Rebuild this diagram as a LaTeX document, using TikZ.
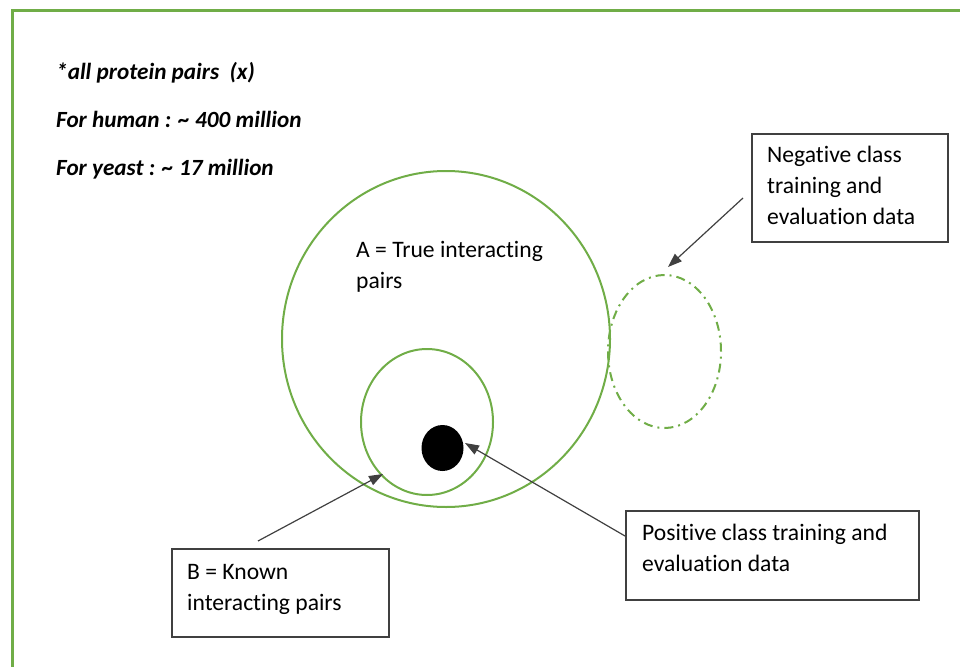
\documentclass[tikz,border=0pt]{standalone}
\usepackage{fontspec}
\setmainfont[Ligatures=NoCommon]{Carlito}
\usetikzlibrary{arrows.meta,shapes.geometric}
\definecolor{frameGreen}{HTML}{70AD47}
\definecolor{lineGray}{HTML}{404040}

\begin{document}
\begin{tikzpicture}[x=1pt,y=-1pt,
  txt/.style={font=\fontsize{23.6}{31}\selectfont, inner sep=0pt, anchor=base west, align=left},
  note/.style={font=\fontsize{23.2}{27}\selectfont\bfseries\itshape, inner sep=0pt, anchor=base west},
  callout/.style={draw=lineGray, line width=1.5pt, rectangle, anchor=north west, inner sep=0pt},
  pointer/.style={draw=lineGray, line width=1.2pt, -{Triangle[length=14pt,width=10pt]}},
  region/.style={draw=frameGreen, line width=2pt, ellipse, inner sep=0pt}]
\useasboundingbox (0,0) rectangle (960,666);
\clip (0,0) rectangle (960,666);

% outer frame, running off the right and bottom edges
\draw[frameGreen, line width=3pt] (12,11) rectangle (980,690);

% notes in the upper left corner
\node[note] (n1) at (56,80) {*all protein pairs\ \ (x)};
\node[note] (n2) at (56,127.5) {For human : \textasciitilde{} 400 million};
\node[note] (n3) at (56,175) {For yeast : \textasciitilde{} 17 million};

% sets
\node[region, minimum width=328, minimum height=336] (A) at (446,339) {};
\node[region, minimum width=132, minimum height=146] (B) at (427,422) {};
\node[region, dash pattern=on 9pt off 5pt on 2pt off 5pt, minimum width=113, minimum height=153] (neg) at (664.5,351.5) {};
\node[ellipse, fill=black, inner sep=0pt, minimum width=42, minimum height=46] (pos) at (442.5,448) {};

% multi-line labels are placed by the baseline of their last line
\node[txt] (Alabel) at (356,288) {A = True interacting\\pairs};

% callout boxes
\node[callout, minimum width=196, minimum height=108] (negbox) at (751,133) {};
\node[txt] (negtext) at (767,224.7) {Negative class\\training and\\evaluation data};

\node[callout, minimum width=293, minimum height=89] (posbox) at (625,510) {};
\node[txt] (postext) at (642,571) {Positive class training and\\evaluation data};

\node[callout, minimum width=217, minimum height=88] (Bbox) at (171,548) {};
\node[txt] (Btext) at (187,610) {B = Known\\interacting pairs};

% pointers
\coordinate (negtail) at (743,198);
\coordinate (negtip) at (668,267);
\coordinate (postail) at (625,536);
\coordinate (postip) at (465,443);
\coordinate (Btail) at (258,541);
\coordinate (Btip) at (383,474);
\draw[pointer] (negtail) -- (negtip);
\draw[pointer] (postail) -- (postip);
\draw[pointer] (Btail) -- (Btip);
\end{tikzpicture}
\end{document}
